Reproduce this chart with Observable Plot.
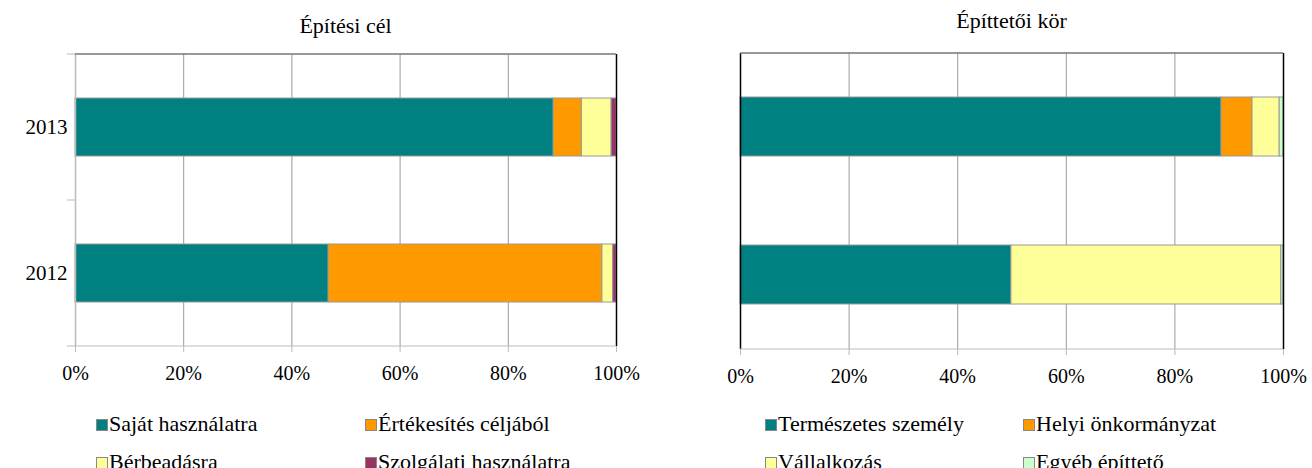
<!DOCTYPE html>
<html>
<head>
<meta charset="utf-8">
<script src="https://cdn.jsdelivr.net/npm/d3@7"></script>
<script src="https://cdn.jsdelivr.net/npm/@observablehq/plot@0.6"></script>
<style>
  html, body { margin: 0; padding: 0; background: #fff; }
  #page { position: relative; width: 1312px; height: 468px; overflow: hidden; font-family: "Liberation Serif", serif; color: #000; }
  .title { position: absolute; font-size: 22px; white-space: nowrap; transform: translateX(-50%); line-height: 1; }
  .chart { position: absolute; }
  .leg { position: absolute; font-size: 22px; white-space: nowrap; line-height: 1; }
  .sw { position: absolute; width: 10px; height: 10px; border: 1px solid #888; }
</style>
</head>
<body>
<div id="page"></div>
<script>
// ---- data ----
const years = ["2013", "2012"];
const xTicks = [0, 20, 40, 60, 80, 100];

const celTitle = "Építési cél";
const celCategories = ["Saját használatra", "Értékesítés céljából", "Bérbeadásra", "Szolgálati használatra"];
const celColors = ["#008080", "#FF9900", "#FFFF99", "#993366"];
const cel2013 = [88.4, 5.2, 5.5, 0.9];
const cel2012 = [46.8, 50.6, 2.0, 0.6];

const korTitle = "Építtetői kör";
const korCategories = ["Természetes személy", "Helyi önkormányzat", "Vállalkozás", "Egyéb építtető"];
const korColors = ["#008080", "#FF9900", "#FFFF99", "#CCFFCC"];
const kor2013 = [88.6, 5.7, 5.0, 0.7];
const kor2012 = [49.9, 0.0, 49.7, 0.4];

function table(categories, v2013, v2012) {
  const rows = [];
  years.forEach((yr, j) => {
    const vals = j === 0 ? v2013 : v2012;
    categories.forEach((c, i) => rows.push({year: yr, cat: c, value: vals[i]}));
  });
  return rows;
}

const page = document.getElementById("page");

function makeChart(cfg) {
  const data = table(cfg.categories, cfg.v2013, cfg.v2012);
  const marks = [
    Plot.ruleX([20, 40, 60, 80], {stroke: "#9a9a9a", strokeWidth: 1}),
    Plot.barX(data, Plot.stackX({x: "value", y: "year", fill: "cat", stroke: "#999", strokeWidth: 1})),
    Plot.ruleX([0], {stroke: cfg.leftColor, strokeWidth: cfg.leftWidth}),
    Plot.ruleX([100], {stroke: "#000", strokeWidth: 1.5}),
    Plot.axisX({ticks: xTicks, tickFormat: d => d + "%", tickSize: 6, tickPadding: 13, stroke: "#bbb", fill: "#000", fontSize: 20, label: null})
  ];
  if (cfg.yAxis) {
    marks.push(Plot.axisY({tickSize: 0, tickPadding: 8, fill: "#000", fontSize: 21, label: null}));
  }
  const plot = Plot.plot({
    width: cfg.width, height: cfg.height,
    marginLeft: cfg.ml, marginRight: cfg.mr, marginTop: cfg.mt, marginBottom: cfg.mb,
    style: {fontFamily: "Liberation Serif, serif", fontSize: "20px", background: "transparent", overflow: "visible"},
    x: {domain: [0, 100], axis: null, label: null},
    y: {domain: years, paddingInner: 0.6, paddingOuter: 0.3, axis: null, label: null},
    color: {domain: cfg.categories, range: cfg.colors},
    marks
  });
  // frame lines drawn from the plot's own scales
  const xs = plot.scale("x"), ys = plot.scale("y");
  const [x0, x1] = xs.range;
  const [y0, y1] = ys.range;
  const svg = d3.select(plot);
  const g = svg.append("g");
  g.append("line").attr("x1", x0).attr("x2", x1).attr("y1", y0).attr("y2", y0)
    .attr("stroke", "#777").attr("stroke-width", 1.5);
  g.append("line").attr("x1", x0).attr("x2", x1).attr("y1", y1).attr("y2", y1)
    .attr("stroke", "#bbb").attr("stroke-width", 1);
  if (cfg.yAxis) {
    const n = years.length;
    for (let i = 0; i <= n; i++) {
      const yy = y0 + i * (y1 - y0) / n;
      g.append("line").attr("x1", x0 - 8).attr("x2", x0).attr("y1", yy).attr("y2", yy)
        .attr("stroke", "#bbb").attr("stroke-width", 1);
    }
  }
  const wrap = document.createElement("div");
  wrap.className = "chart";
  wrap.style.left = cfg.left + "px";
  wrap.style.top = cfg.top + "px";
  wrap.appendChild(plot);
  page.appendChild(wrap);

  const t = document.createElement("div");
  t.className = "title";
  t.textContent = cfg.title;
  t.style.left = (cfg.left + (x0 + x1) / 2) + "px";
  t.style.top = cfg.titleTop + "px";
  page.appendChild(t);

  cfg.categories.forEach((c, i) => {
    const col = i % 2, row = Math.floor(i / 2);
    const sx = cfg.legX[col], sy = cfg.legY[row];
    const sw = document.createElement("div");
    sw.className = "sw";
    sw.style.left = sx + "px";
    sw.style.top = (sy + 5) + "px";
    sw.style.background = cfg.colors[i];
    page.appendChild(sw);
    const lt = document.createElement("div");
    lt.className = "leg";
    lt.textContent = c;
    lt.style.left = (sx + 13) + "px";
    lt.style.top = (sy - 1) + "px";
    page.appendChild(lt);
  });
}

makeChart({
  title: celTitle, categories: celCategories, colors: celColors, v2013: cel2013, v2012: cel2012,
  left: 0, top: 40, width: 660, height: 350, ml: 75, mr: 44, mt: 14, mb: 44,
  yAxis: true, leftColor: "#bbb", leftWidth: 1.5, titleTop: 15,
  legX: [96, 365], legY: [414, 452]
});

makeChart({
  title: korTitle, categories: korCategories, colors: korColors, v2013: kor2013, v2012: kor2012,
  left: 660, top: 40, width: 652, height: 350, ml: 80, mr: 29, mt: 13, mb: 41,
  yAxis: false, leftColor: "#000", leftWidth: 1.5, titleTop: 10,
  legX: [765, 1023], legY: [414, 452]
});
</script>
</body>
</html>
